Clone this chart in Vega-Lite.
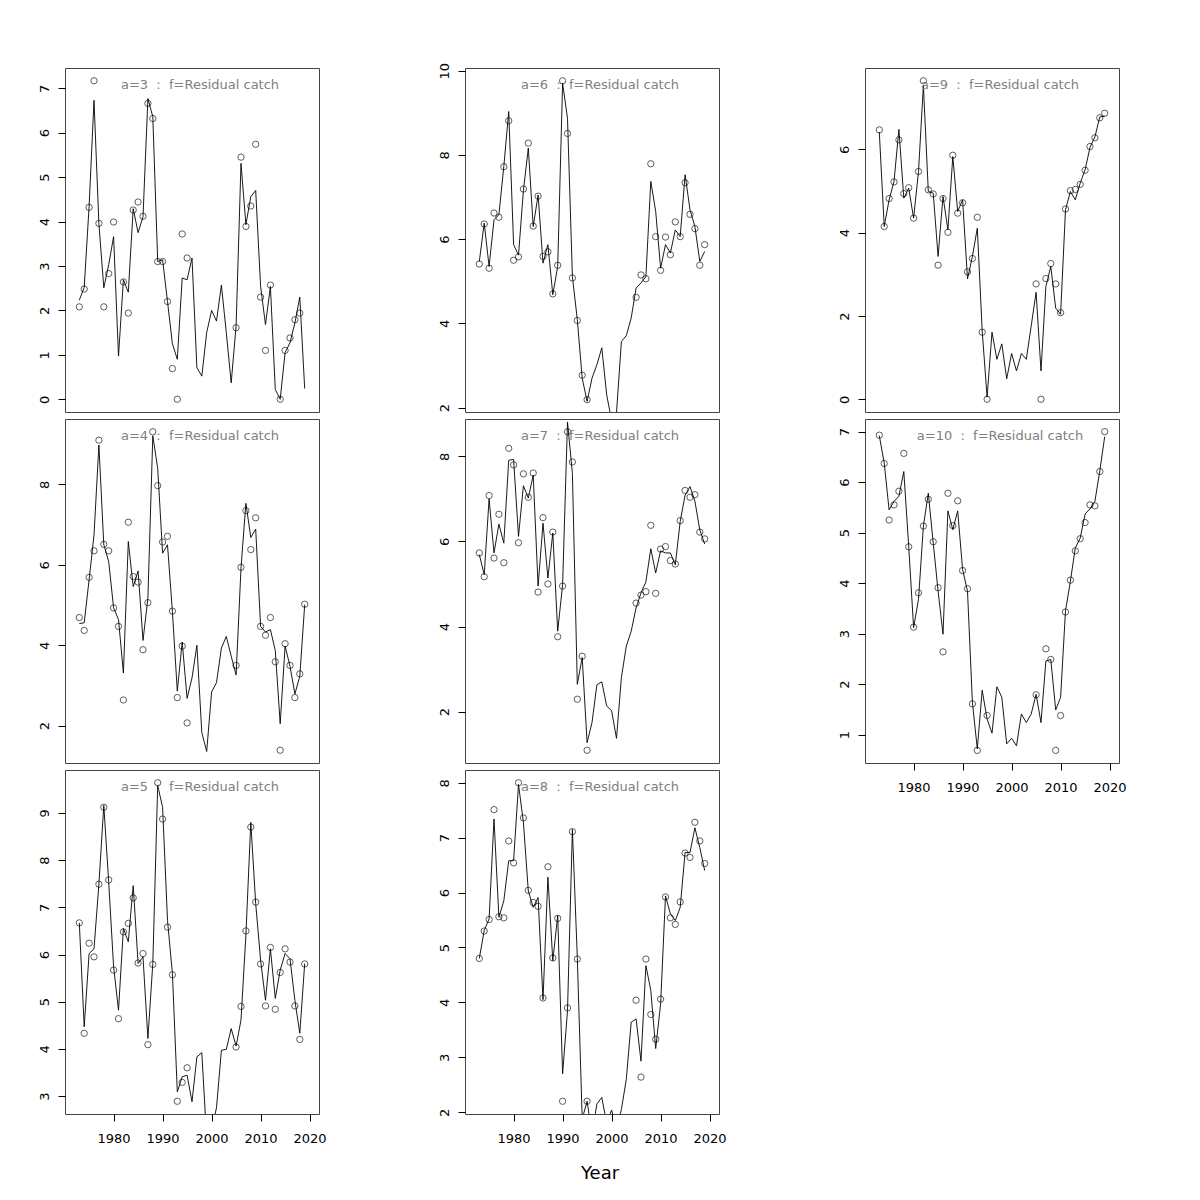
{
"$schema":"https://vega.github.io/schema/vega-lite/v6.json",
"padding":{"left":37,"top":61,"right":0,"bottom":0},
"background":"#ffffff",
"title":{"text":"Year","orient":"bottom","fontSize":18,"font":"DejaVu Sans","fontWeight":"normal","color":"#000","offset":19,"dx":18,"anchor":"middle","frame":"bounds"},
"config":{
 "view":{"stroke":"#444","strokeWidth":1},
 "title":{"color":"#808080","fontSize":13,"fontWeight":"normal","font":"DejaVu Sans","offset":-24,"frame":"group","anchor":"middle","dx":8},
 "axis":{"domain":false,"grid":false,"tickColor":"#000","tickSize":7,"tickWidth":1,"labelFont":"DejaVu Sans","labelFontSize":13,"labelColor":"#000","labelOverlap":false,"labelFlush":false,"format":"d"},
 "axisY":{"labelAngle":-90,"labelAlign":"center","labelBaseline":"alphabetic","labelPadding":10},
 "axisX":{"labelPadding":11}
},
"bounds":"flush",
"columns":3,
"spacing":{"row":7,"column":146},
"data":{"values":[
{"a":3,"year":1973,"obs":2.08,"fit":2.23},{"a":3,"year":1974,"obs":2.48,"fit":2.52},{"a":3,"year":1975,"obs":4.32,"fit":4.34},{"a":3,"year":1976,"obs":7.17,"fit":6.73},{"a":3,"year":1977,"obs":3.96,"fit":3.95},{"a":3,"year":1978,"obs":2.08,"fit":2.51},{"a":3,"year":1979,"obs":2.83,"fit":3.03},{"a":3,"year":1980,"obs":3.99,"fit":3.66},{"a":3,"year":1981,"obs":null,"fit":0.97},{"a":3,"year":1982,"obs":2.64,"fit":2.69},{"a":3,"year":1983,"obs":1.94,"fit":2.41},{"a":3,"year":1984,"obs":4.26,"fit":4.29},{"a":3,"year":1985,"obs":4.44,"fit":3.75},{"a":3,"year":1986,"obs":4.12,"fit":4.11},{"a":3,"year":1987,"obs":6.66,"fit":6.77},{"a":3,"year":1988,"obs":6.32,"fit":6.36},{"a":3,"year":1989,"obs":3.10,"fit":3.10},{"a":3,"year":1990,"obs":3.10,"fit":3.14},{"a":3,"year":1991,"obs":2.20,"fit":2.20},{"a":3,"year":1992,"obs":0.69,"fit":1.25},{"a":3,"year":1993,"obs":0,"fit":0.90},{"a":3,"year":1994,"obs":3.72,"fit":2.73},{"a":3,"year":1995,"obs":3.18,"fit":2.69},{"a":3,"year":1996,"obs":null,"fit":3.18},{"a":3,"year":1997,"obs":null,"fit":0.71},{"a":3,"year":1998,"obs":null,"fit":0.52},{"a":3,"year":1999,"obs":null,"fit":1.50},{"a":3,"year":2000,"obs":null,"fit":2.00},{"a":3,"year":2001,"obs":null,"fit":1.76},{"a":3,"year":2002,"obs":null,"fit":2.57},{"a":3,"year":2003,"obs":null,"fit":1.50},{"a":3,"year":2004,"obs":null,"fit":0.37},{"a":3,"year":2005,"obs":1.61,"fit":1.65},{"a":3,"year":2006,"obs":5.45,"fit":5.31},{"a":3,"year":2007,"obs":3.89,"fit":3.93},{"a":3,"year":2008,"obs":4.35,"fit":4.56},{"a":3,"year":2009,"obs":5.74,"fit":4.70},{"a":3,"year":2010,"obs":2.30,"fit":2.54},{"a":3,"year":2011,"obs":1.10,"fit":1.68},{"a":3,"year":2012,"obs":2.57,"fit":2.54},{"a":3,"year":2013,"obs":null,"fit":0.22},{"a":3,"year":2014,"obs":0,"fit":0.0},{"a":3,"year":2015,"obs":1.10,"fit":1.05},{"a":3,"year":2016,"obs":1.38,"fit":1.27},{"a":3,"year":2017,"obs":1.79,"fit":1.72},{"a":3,"year":2018,"obs":1.94,"fit":2.30},{"a":3,"year":2019,"obs":null,"fit":0.24},
{"a":6,"year":1973,"obs":5.41,"fit":5.47},{"a":6,"year":1974,"obs":6.36,"fit":6.38},{"a":6,"year":1975,"obs":5.31,"fit":5.35},{"a":6,"year":1976,"obs":6.62,"fit":6.46},{"a":6,"year":1977,"obs":6.52,"fit":6.58},{"a":6,"year":1978,"obs":7.72,"fit":7.72},{"a":6,"year":1979,"obs":8.81,"fit":9.03},{"a":6,"year":1980,"obs":5.50,"fit":5.87},{"a":6,"year":1981,"obs":5.58,"fit":5.62},{"a":6,"year":1982,"obs":7.19,"fit":7.15},{"a":6,"year":1983,"obs":8.28,"fit":8.16},{"a":6,"year":1984,"obs":6.31,"fit":6.30},{"a":6,"year":1985,"obs":7.02,"fit":7.05},{"a":6,"year":1986,"obs":5.59,"fit":5.43},{"a":6,"year":1987,"obs":5.70,"fit":5.87},{"a":6,"year":1988,"obs":4.70,"fit":4.68},{"a":6,"year":1989,"obs":5.38,"fit":5.35},{"a":6,"year":1990,"obs":9.76,"fit":9.70},{"a":6,"year":1991,"obs":8.51,"fit":8.87},{"a":6,"year":1992,"obs":5.08,"fit":5.11},{"a":6,"year":1993,"obs":4.07,"fit":4.09},{"a":6,"year":1994,"obs":2.77,"fit":2.70},{"a":6,"year":1995,"obs":2.19,"fit":2.15},{"a":6,"year":1996,"obs":null,"fit":2.70},{"a":6,"year":1997,"obs":null,"fit":3.02},{"a":6,"year":1998,"obs":null,"fit":3.42},{"a":6,"year":1999,"obs":null,"fit":2.30},{"a":6,"year":2000,"obs":null,"fit":1.70},{"a":6,"year":2001,"obs":null,"fit":1.88},{"a":6,"year":2002,"obs":null,"fit":3.57},{"a":6,"year":2003,"obs":null,"fit":3.71},{"a":6,"year":2004,"obs":null,"fit":4.13},{"a":6,"year":2005,"obs":4.62,"fit":4.84},{"a":6,"year":2006,"obs":5.15,"fit":4.96},{"a":6,"year":2007,"obs":5.06,"fit":5.11},{"a":6,"year":2008,"obs":7.79,"fit":7.37},{"a":6,"year":2009,"obs":6.06,"fit":6.66},{"a":6,"year":2010,"obs":5.26,"fit":5.31},{"a":6,"year":2011,"obs":6.05,"fit":5.87},{"a":6,"year":2012,"obs":5.63,"fit":5.67},{"a":6,"year":2013,"obs":6.41,"fit":6.22},{"a":6,"year":2014,"obs":6.06,"fit":6.06},{"a":6,"year":2015,"obs":7.34,"fit":7.53},{"a":6,"year":2016,"obs":6.59,"fit":6.70},{"a":6,"year":2017,"obs":6.25,"fit":6.30},{"a":6,"year":2018,"obs":5.38,"fit":5.47},{"a":6,"year":2019,"obs":5.87,"fit":5.71},
{"a":9,"year":1973,"obs":6.47,"fit":6.42},{"a":9,"year":1974,"obs":4.15,"fit":4.15},{"a":9,"year":1975,"obs":4.82,"fit":4.79},{"a":9,"year":1976,"obs":5.22,"fit":5.23},{"a":9,"year":1977,"obs":6.23,"fit":6.48},{"a":9,"year":1978,"obs":4.94,"fit":4.83},{"a":9,"year":1979,"obs":5.08,"fit":5.07},{"a":9,"year":1980,"obs":4.35,"fit":4.35},{"a":9,"year":1981,"obs":5.47,"fit":5.47},{"a":9,"year":1982,"obs":7.65,"fit":7.54},{"a":9,"year":1983,"obs":5.03,"fit":4.99},{"a":9,"year":1984,"obs":4.93,"fit":4.95},{"a":9,"year":1985,"obs":3.22,"fit":3.43},{"a":9,"year":1986,"obs":4.82,"fit":4.87},{"a":9,"year":1987,"obs":4.01,"fit":4.07},{"a":9,"year":1988,"obs":5.86,"fit":5.83},{"a":9,"year":1989,"obs":4.47,"fit":4.51},{"a":9,"year":1990,"obs":4.72,"fit":4.79},{"a":9,"year":1991,"obs":3.06,"fit":2.89},{"a":9,"year":1992,"obs":3.38,"fit":3.43},{"a":9,"year":1993,"obs":4.37,"fit":4.11},{"a":9,"year":1994,"obs":1.61,"fit":1.64},{"a":9,"year":1995,"obs":0,"fit":0.05},{"a":9,"year":1996,"obs":null,"fit":1.61},{"a":9,"year":1997,"obs":null,"fit":0.96},{"a":9,"year":1998,"obs":null,"fit":1.33},{"a":9,"year":1999,"obs":null,"fit":0.49},{"a":9,"year":2000,"obs":null,"fit":1.10},{"a":9,"year":2001,"obs":null,"fit":0.68},{"a":9,"year":2002,"obs":null,"fit":1.10},{"a":9,"year":2003,"obs":null,"fit":0.96},{"a":9,"year":2004,"obs":null,"fit":1.76},{"a":9,"year":2005,"obs":2.77,"fit":2.57},{"a":9,"year":2006,"obs":0,"fit":0.68},{"a":9,"year":2007,"obs":2.90,"fit":2.71},{"a":9,"year":2008,"obs":3.26,"fit":3.19},{"a":9,"year":2009,"obs":2.77,"fit":2.19},{"a":9,"year":2010,"obs":2.08,"fit":2.04},{"a":9,"year":2011,"obs":4.57,"fit":4.55},{"a":9,"year":2012,"obs":5.01,"fit":4.99},{"a":9,"year":2013,"obs":5.04,"fit":4.79},{"a":9,"year":2014,"obs":5.16,"fit":5.19},{"a":9,"year":2015,"obs":5.50,"fit":5.51},{"a":9,"year":2016,"obs":6.07,"fit":6.05},{"a":9,"year":2017,"obs":6.28,"fit":6.30},{"a":9,"year":2018,"obs":6.76,"fit":6.78},{"a":9,"year":2019,"obs":6.87,"fit":6.80},
{"a":4,"year":1973,"obs":4.69,"fit":4.54},{"a":4,"year":1974,"obs":4.37,"fit":4.56},{"a":4,"year":1975,"obs":5.69,"fit":5.63},{"a":4,"year":1976,"obs":6.35,"fit":6.74},{"a":4,"year":1977,"obs":9.10,"fit":8.98},{"a":4,"year":1978,"obs":6.51,"fit":6.50},{"a":4,"year":1979,"obs":6.35,"fit":6.08},{"a":4,"year":1980,"obs":4.93,"fit":4.93},{"a":4,"year":1981,"obs":4.47,"fit":4.64},{"a":4,"year":1982,"obs":2.64,"fit":3.31},{"a":4,"year":1983,"obs":7.06,"fit":6.58},{"a":4,"year":1984,"obs":5.71,"fit":5.46},{"a":4,"year":1985,"obs":5.57,"fit":5.85},{"a":4,"year":1986,"obs":3.89,"fit":4.12},{"a":4,"year":1987,"obs":5.06,"fit":5.17},{"a":4,"year":1988,"obs":9.31,"fit":9.21},{"a":4,"year":1989,"obs":7.97,"fit":8.40},{"a":4,"year":1990,"obs":6.57,"fit":6.29},{"a":4,"year":1991,"obs":6.71,"fit":6.50},{"a":4,"year":1992,"obs":4.85,"fit":4.84},{"a":4,"year":1993,"obs":2.70,"fit":2.86},{"a":4,"year":1994,"obs":3.98,"fit":4.08},{"a":4,"year":1995,"obs":2.07,"fit":2.68},{"a":4,"year":1996,"obs":null,"fit":3.19},{"a":4,"year":1997,"obs":null,"fit":4.00},{"a":4,"year":1998,"obs":null,"fit":1.83},{"a":4,"year":1999,"obs":null,"fit":1.36},{"a":4,"year":2000,"obs":null,"fit":2.84},{"a":4,"year":2001,"obs":null,"fit":3.07},{"a":4,"year":2002,"obs":null,"fit":3.93},{"a":4,"year":2003,"obs":null,"fit":4.22},{"a":4,"year":2004,"obs":null,"fit":3.73},{"a":4,"year":2005,"obs":3.50,"fit":3.26},{"a":4,"year":2006,"obs":5.94,"fit":5.92},{"a":4,"year":2007,"obs":7.35,"fit":7.53},{"a":4,"year":2008,"obs":6.38,"fit":6.68},{"a":4,"year":2009,"obs":7.17,"fit":6.89},{"a":4,"year":2010,"obs":4.47,"fit":4.47},{"a":4,"year":2011,"obs":4.25,"fit":4.33},{"a":4,"year":2012,"obs":4.69,"fit":4.39},{"a":4,"year":2013,"obs":3.59,"fit":3.87},{"a":4,"year":2014,"obs":1.39,"fit":2.05},{"a":4,"year":2015,"obs":4.04,"fit":3.98},{"a":4,"year":2016,"obs":3.50,"fit":3.48},{"a":4,"year":2017,"obs":2.70,"fit":2.79},{"a":4,"year":2018,"obs":3.29,"fit":3.23},{"a":4,"year":2019,"obs":5.02,"fit":5.01},
{"a":7,"year":1973,"obs":5.73,"fit":5.69},{"a":7,"year":1974,"obs":5.17,"fit":5.22},{"a":7,"year":1975,"obs":7.08,"fit":7.00},{"a":7,"year":1976,"obs":5.61,"fit":5.73},{"a":7,"year":1977,"obs":6.64,"fit":6.41},{"a":7,"year":1978,"obs":5.50,"fit":5.96},{"a":7,"year":1979,"obs":8.19,"fit":7.91},{"a":7,"year":1980,"obs":7.80,"fit":7.93},{"a":7,"year":1981,"obs":5.97,"fit":6.12},{"a":7,"year":1982,"obs":7.59,"fit":7.31},{"a":7,"year":1983,"obs":7.04,"fit":7.02},{"a":7,"year":1984,"obs":7.61,"fit":7.56},{"a":7,"year":1985,"obs":4.81,"fit":4.95},{"a":7,"year":1986,"obs":6.56,"fit":6.43},{"a":7,"year":1987,"obs":5.00,"fit":5.14},{"a":7,"year":1988,"obs":6.22,"fit":6.20},{"a":7,"year":1989,"obs":3.76,"fit":3.89},{"a":7,"year":1990,"obs":4.95,"fit":4.98},{"a":7,"year":1991,"obs":8.58,"fit":8.81},{"a":7,"year":1992,"obs":7.87,"fit":7.60},{"a":7,"year":1993,"obs":2.29,"fit":2.64},{"a":7,"year":1994,"obs":3.30,"fit":3.27},{"a":7,"year":1995,"obs":1.09,"fit":1.27},{"a":7,"year":1996,"obs":null,"fit":1.74},{"a":7,"year":1997,"obs":null,"fit":2.63},{"a":7,"year":1998,"obs":null,"fit":2.70},{"a":7,"year":1999,"obs":null,"fit":2.13},{"a":7,"year":2000,"obs":null,"fit":2.02},{"a":7,"year":2001,"obs":null,"fit":1.37},{"a":7,"year":2002,"obs":null,"fit":2.80},{"a":7,"year":2003,"obs":null,"fit":3.54},{"a":7,"year":2004,"obs":null,"fit":3.89},{"a":7,"year":2005,"obs":4.55,"fit":4.44},{"a":7,"year":2006,"obs":4.74,"fit":4.79},{"a":7,"year":2007,"obs":4.82,"fit":5.05},{"a":7,"year":2008,"obs":6.38,"fit":5.83},{"a":7,"year":2009,"obs":4.78,"fit":5.26},{"a":7,"year":2010,"obs":5.82,"fit":5.78},{"a":7,"year":2011,"obs":5.88,"fit":5.73},{"a":7,"year":2012,"obs":5.55,"fit":5.73},{"a":7,"year":2013,"obs":5.47,"fit":5.45},{"a":7,"year":2014,"obs":6.49,"fit":6.47},{"a":7,"year":2015,"obs":7.20,"fit":7.09},{"a":7,"year":2016,"obs":7.04,"fit":7.29},{"a":7,"year":2017,"obs":7.10,"fit":6.95},{"a":7,"year":2018,"obs":6.22,"fit":6.27},{"a":7,"year":2019,"obs":6.06,"fit":5.94},
{"a":10,"year":1973,"obs":6.93,"fit":6.92},{"a":10,"year":1974,"obs":6.37,"fit":6.38},{"a":10,"year":1975,"obs":5.25,"fit":5.45},{"a":10,"year":1976,"obs":5.55,"fit":5.62},{"a":10,"year":1977,"obs":5.82,"fit":5.72},{"a":10,"year":1978,"obs":6.57,"fit":6.21},{"a":10,"year":1979,"obs":4.72,"fit":4.73},{"a":10,"year":1980,"obs":3.13,"fit":3.12},{"a":10,"year":1981,"obs":3.81,"fit":3.68},{"a":10,"year":1982,"obs":5.13,"fit":5.13},{"a":10,"year":1983,"obs":5.66,"fit":5.78},{"a":10,"year":1984,"obs":4.82,"fit":4.80},{"a":10,"year":1985,"obs":3.91,"fit":3.84},{"a":10,"year":1986,"obs":2.64,"fit":2.99},{"a":10,"year":1987,"obs":5.78,"fit":5.43},{"a":10,"year":1988,"obs":5.14,"fit":5.06},{"a":10,"year":1989,"obs":5.63,"fit":5.43},{"a":10,"year":1990,"obs":4.25,"fit":4.27},{"a":10,"year":1991,"obs":3.89,"fit":3.84},{"a":10,"year":1992,"obs":1.61,"fit":1.64},{"a":10,"year":1993,"obs":0.69,"fit":0.72},{"a":10,"year":1994,"obs":null,"fit":1.88},{"a":10,"year":1995,"obs":1.38,"fit":1.31},{"a":10,"year":1996,"obs":null,"fit":1.03},{"a":10,"year":1997,"obs":null,"fit":1.95},{"a":10,"year":1998,"obs":null,"fit":1.74},{"a":10,"year":1999,"obs":null,"fit":0.82},{"a":10,"year":2000,"obs":null,"fit":0.93},{"a":10,"year":2001,"obs":null,"fit":0.78},{"a":10,"year":2002,"obs":null,"fit":1.41},{"a":10,"year":2003,"obs":null,"fit":1.24},{"a":10,"year":2004,"obs":null,"fit":1.41},{"a":10,"year":2005,"obs":1.79,"fit":1.80},{"a":10,"year":2006,"obs":null,"fit":1.24},{"a":10,"year":2007,"obs":2.70,"fit":2.46},{"a":10,"year":2008,"obs":2.49,"fit":2.49},{"a":10,"year":2009,"obs":0.69,"fit":1.49},{"a":10,"year":2010,"obs":1.38,"fit":1.74},{"a":10,"year":2011,"obs":3.43,"fit":3.45},{"a":10,"year":2012,"obs":4.06,"fit":4.04},{"a":10,"year":2013,"obs":4.64,"fit":4.70},{"a":10,"year":2014,"obs":4.88,"fit":4.89},{"a":10,"year":2015,"obs":5.20,"fit":5.37},{"a":10,"year":2016,"obs":5.55,"fit":5.47},{"a":10,"year":2017,"obs":5.53,"fit":5.62},{"a":10,"year":2018,"obs":6.21,"fit":6.22},{"a":10,"year":2019,"obs":7.00,"fit":6.90},
{"a":5,"year":1973,"obs":6.67,"fit":6.67},{"a":5,"year":1974,"obs":4.33,"fit":4.47},{"a":5,"year":1975,"obs":6.24,"fit":6.02},{"a":5,"year":1976,"obs":5.95,"fit":6.12},{"a":5,"year":1977,"obs":7.49,"fit":7.49},{"a":5,"year":1978,"obs":9.12,"fit":9.16},{"a":5,"year":1979,"obs":7.58,"fit":7.53},{"a":5,"year":1980,"obs":5.67,"fit":5.74},{"a":5,"year":1981,"obs":4.64,"fit":4.82},{"a":5,"year":1982,"obs":6.48,"fit":6.55},{"a":5,"year":1983,"obs":6.66,"fit":6.27},{"a":5,"year":1984,"obs":7.20,"fit":7.46},{"a":5,"year":1985,"obs":5.82,"fit":5.81},{"a":5,"year":1986,"obs":6.02,"fit":5.95},{"a":5,"year":1987,"obs":4.09,"fit":4.22},{"a":5,"year":1988,"obs":5.79,"fit":5.81},{"a":5,"year":1989,"obs":9.64,"fit":9.58},{"a":5,"year":1990,"obs":8.87,"fit":9.12},{"a":5,"year":1991,"obs":6.58,"fit":6.72},{"a":5,"year":1992,"obs":5.57,"fit":5.60},{"a":5,"year":1993,"obs":2.89,"fit":3.09},{"a":5,"year":1994,"obs":3.29,"fit":3.41},{"a":5,"year":1995,"obs":3.60,"fit":3.44},{"a":5,"year":1996,"obs":null,"fit":2.88},{"a":5,"year":1997,"obs":null,"fit":3.83},{"a":5,"year":1998,"obs":null,"fit":3.92},{"a":5,"year":1999,"obs":null,"fit":2.10},{"a":5,"year":2000,"obs":null,"fit":2.30},{"a":5,"year":2001,"obs":null,"fit":2.75},{"a":5,"year":2002,"obs":null,"fit":3.97},{"a":5,"year":2003,"obs":null,"fit":3.99},{"a":5,"year":2004,"obs":null,"fit":4.43},{"a":5,"year":2005,"obs":4.04,"fit":4.06},{"a":5,"year":2006,"obs":4.90,"fit":4.61},{"a":5,"year":2007,"obs":6.50,"fit":6.41},{"a":5,"year":2008,"obs":8.70,"fit":8.80},{"a":5,"year":2009,"obs":7.11,"fit":7.08},{"a":5,"year":2010,"obs":5.80,"fit":5.88},{"a":5,"year":2011,"obs":4.91,"fit":5.03},{"a":5,"year":2012,"obs":6.15,"fit":6.12},{"a":5,"year":2013,"obs":4.84,"fit":5.07},{"a":5,"year":2014,"obs":5.62,"fit":5.67},{"a":5,"year":2015,"obs":6.12,"fit":6.02},{"a":5,"year":2016,"obs":5.84,"fit":5.91},{"a":5,"year":2017,"obs":4.91,"fit":5.03},{"a":5,"year":2018,"obs":4.20,"fit":4.33},{"a":5,"year":2019,"obs":5.80,"fit":5.81},
{"a":8,"year":1973,"obs":4.80,"fit":4.80},{"a":8,"year":1974,"obs":5.30,"fit":5.31},{"a":8,"year":1975,"obs":5.51,"fit":5.52},{"a":8,"year":1976,"obs":7.51,"fit":7.34},{"a":8,"year":1977,"obs":5.56,"fit":5.55},{"a":8,"year":1978,"obs":5.54,"fit":5.85},{"a":8,"year":1979,"obs":6.94,"fit":6.58},{"a":8,"year":1980,"obs":6.54,"fit":6.58},{"a":8,"year":1981,"obs":8.00,"fit":7.97},{"a":8,"year":1982,"obs":7.36,"fit":7.28},{"a":8,"year":1983,"obs":6.04,"fit":6.03},{"a":8,"year":1984,"obs":5.82,"fit":5.73},{"a":8,"year":1985,"obs":5.75,"fit":5.91},{"a":8,"year":1986,"obs":4.08,"fit":4.05},{"a":8,"year":1987,"obs":6.47,"fit":6.28},{"a":8,"year":1988,"obs":4.81,"fit":4.76},{"a":8,"year":1989,"obs":5.53,"fit":5.58},{"a":8,"year":1990,"obs":2.20,"fit":2.70},{"a":8,"year":1991,"obs":3.90,"fit":3.85},{"a":8,"year":1992,"obs":7.11,"fit":7.15},{"a":8,"year":1993,"obs":4.79,"fit":4.82},{"a":8,"year":1994,"obs":null,"fit":1.88},{"a":8,"year":1995,"obs":2.20,"fit":2.20},{"a":8,"year":1996,"obs":null,"fit":1.60},{"a":8,"year":1997,"obs":null,"fit":2.15},{"a":8,"year":1998,"obs":null,"fit":2.27},{"a":8,"year":1999,"obs":null,"fit":1.80},{"a":8,"year":2000,"obs":null,"fit":2.04},{"a":8,"year":2001,"obs":null,"fit":1.70},{"a":8,"year":2002,"obs":null,"fit":2.05},{"a":8,"year":2003,"obs":null,"fit":2.60},{"a":8,"year":2004,"obs":null,"fit":3.64},{"a":8,"year":2005,"obs":4.04,"fit":3.70},{"a":8,"year":2006,"obs":2.64,"fit":2.93},{"a":8,"year":2007,"obs":4.79,"fit":4.67},{"a":8,"year":2008,"obs":3.78,"fit":4.22},{"a":8,"year":2009,"obs":3.33,"fit":3.16},{"a":8,"year":2010,"obs":4.06,"fit":3.97},{"a":8,"year":2011,"obs":5.92,"fit":5.94},{"a":8,"year":2012,"obs":5.54,"fit":5.61},{"a":8,"year":2013,"obs":5.42,"fit":5.49},{"a":8,"year":2014,"obs":5.83,"fit":5.73},{"a":8,"year":2015,"obs":6.72,"fit":6.73},{"a":8,"year":2016,"obs":6.64,"fit":6.73},{"a":8,"year":2017,"obs":7.28,"fit":7.18},{"a":8,"year":2018,"obs":6.94,"fit":6.82},{"a":8,"year":2019,"obs":6.53,"fit":6.40}
]},
"concat":[
{"title":{"text":"a=3 \u00a0:\u00a0 f=Residual catch"},"width":254,"height":344,"transform":[{"filter":"datum.a==3"}],
 "encoding":{"x":{"field":"year","type":"quantitative","scale":{"domain":[1970.08,2021.92],"nice":false,"zero":false},"axis":null}},
 "layer":[
  {"mark":{"type":"line","color":"#000","strokeWidth":0.9,"clip":true},"encoding":{"y":{"field":"fit","type":"quantitative","scale":{"domain":[-0.287,7.457],"nice":false,"zero":false},"axis":{"values":[0,1,2,3,4,5,6,7],"title":null}}}},
  {"mark":{"type":"point","shape":"circle","filled":false,"color":"#000","size":40,"strokeWidth":0.9,"clip":true},"encoding":{"y":{"field":"obs","type":"quantitative"}}}
 ]},
{"title":{"text":"a=6 \u00a0:\u00a0 f=Residual catch","offset":-30},"width":254,"height":344,"transform":[{"filter":"datum.a==6"}],
 "encoding":{"x":{"field":"year","type":"quantitative","scale":{"domain":[1970.08,2021.92],"nice":false,"zero":false},"axis":null}},
 "layer":[
  {"mark":{"type":"line","color":"#000","strokeWidth":0.9,"clip":true},"encoding":{"y":{"field":"fit","type":"quantitative","scale":{"domain":[1.897,10.063],"nice":false,"zero":false},"axis":{"values":[2,4,6,8,10],"title":null}}}},
  {"mark":{"type":"point","shape":"circle","filled":false,"color":"#000","size":40,"strokeWidth":0.9,"clip":true},"encoding":{"y":{"field":"obs","type":"quantitative"}}}
 ]},
{"title":{"text":"a=9 \u00a0:\u00a0 f=Residual catch"},"width":254,"height":344,"transform":[{"filter":"datum.a==9"}],
 "encoding":{"x":{"field":"year","type":"quantitative","scale":{"domain":[1970.08,2021.92],"nice":false,"zero":false},"axis":null}},
 "layer":[
  {"mark":{"type":"line","color":"#000","strokeWidth":0.9,"clip":true},"encoding":{"y":{"field":"fit","type":"quantitative","scale":{"domain":[-0.306,7.956],"nice":false,"zero":false},"axis":{"values":[0,2,4,6],"title":null}}}},
  {"mark":{"type":"point","shape":"circle","filled":false,"color":"#000","size":40,"strokeWidth":0.9,"clip":true},"encoding":{"y":{"field":"obs","type":"quantitative"}}}
 ]},
{"title":{"text":"a=4 \u00a0:\u00a0 f=Residual catch"},"width":254,"height":344,"transform":[{"filter":"datum.a==4"}],
 "encoding":{"x":{"field":"year","type":"quantitative","scale":{"domain":[1970.08,2021.92],"nice":false,"zero":false},"axis":null}},
 "layer":[
  {"mark":{"type":"line","color":"#000","strokeWidth":0.9,"clip":true},"encoding":{"y":{"field":"fit","type":"quantitative","scale":{"domain":[1.073,9.627],"nice":false,"zero":false},"axis":{"values":[2,4,6,8],"title":null}}}},
  {"mark":{"type":"point","shape":"circle","filled":false,"color":"#000","size":40,"strokeWidth":0.9,"clip":true},"encoding":{"y":{"field":"obs","type":"quantitative"}}}
 ]},
{"title":{"text":"a=7 \u00a0:\u00a0 f=Residual catch"},"width":254,"height":344,"transform":[{"filter":"datum.a==7"}],
 "encoding":{"x":{"field":"year","type":"quantitative","scale":{"domain":[1970.08,2021.92],"nice":false,"zero":false},"axis":null}},
 "layer":[
  {"mark":{"type":"line","color":"#000","strokeWidth":0.9,"clip":true},"encoding":{"y":{"field":"fit","type":"quantitative","scale":{"domain":[0.79,8.88],"nice":false,"zero":false},"axis":{"values":[2,4,6,8],"title":null}}}},
  {"mark":{"type":"point","shape":"circle","filled":false,"color":"#000","size":40,"strokeWidth":0.9,"clip":true},"encoding":{"y":{"field":"obs","type":"quantitative"}}}
 ]},
{"title":{"text":"a=10 \u00a0:\u00a0 f=Residual catch"},"width":254,"height":344,"transform":[{"filter":"datum.a==10"}],
 "encoding":{"x":{"field":"year","type":"quantitative","scale":{"domain":[1970.08,2021.92],"nice":false,"zero":false},"axis":{"values":[1980,1990,2000,2010,2020],"format":"d","title":null}}},
 "layer":[
  {"mark":{"type":"line","color":"#000","strokeWidth":0.9,"clip":true},"encoding":{"y":{"field":"fit","type":"quantitative","scale":{"domain":[0.44,7.25],"nice":false,"zero":false},"axis":{"values":[1,2,3,4,5,6,7],"title":null}}}},
  {"mark":{"type":"point","shape":"circle","filled":false,"color":"#000","size":40,"strokeWidth":0.9,"clip":true},"encoding":{"y":{"field":"obs","type":"quantitative"}}}
 ]},
{"title":{"text":"a=5 \u00a0:\u00a0 f=Residual catch"},"width":254,"height":344,"transform":[{"filter":"datum.a==5"}],
 "encoding":{"x":{"field":"year","type":"quantitative","scale":{"domain":[1970.08,2021.92],"nice":false,"zero":false},"axis":{"values":[1980,1990,2000,2010,2020],"format":"d","title":null}}},
 "layer":[
  {"mark":{"type":"line","color":"#000","strokeWidth":0.9,"clip":true},"encoding":{"y":{"field":"fit","type":"quantitative","scale":{"domain":[2.62,9.91],"nice":false,"zero":false},"axis":{"values":[3,4,5,6,7,8,9],"title":null}}}},
  {"mark":{"type":"point","shape":"circle","filled":false,"color":"#000","size":40,"strokeWidth":0.9,"clip":true},"encoding":{"y":{"field":"obs","type":"quantitative"}}}
 ]},
{"title":{"text":"a=8 \u00a0:\u00a0 f=Residual catch"},"width":254,"height":344,"transform":[{"filter":"datum.a==8"}],
 "encoding":{"x":{"field":"year","type":"quantitative","scale":{"domain":[1970.08,2021.92],"nice":false,"zero":false},"axis":{"values":[1980,1990,2000,2010,2020],"format":"d","title":null}}},
 "layer":[
  {"mark":{"type":"line","color":"#000","strokeWidth":0.9,"clip":true},"encoding":{"y":{"field":"fit","type":"quantitative","scale":{"domain":[1.968,8.232],"nice":false,"zero":false},"axis":{"values":[2,3,4,5,6,7,8],"title":null,"format":"d"}}}},
  {"mark":{"type":"point","shape":"circle","filled":false,"color":"#000","size":40,"strokeWidth":0.9,"clip":true},"encoding":{"y":{"field":"obs","type":"quantitative"}}}
 ]}
]
}
